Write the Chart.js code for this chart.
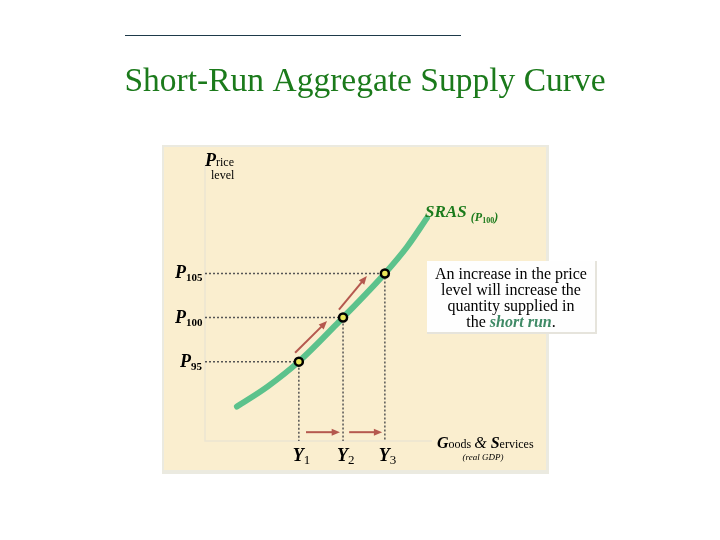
<!DOCTYPE html>
<html>
<head>
<meta charset="utf-8">
<script src="https://cdn.jsdelivr.net/npm/chart.js@4.4.1/dist/chart.umd.min.js"></script>
<style>
  body { margin: 0; background: #ffffff; }
  canvas { display: block; }
</style>
</head>
<body>
<canvas id="srasChart" width="720" height="540"></canvas>
<script>
// SRAS curve (x: real GDP, arbitrary units; y: price level)
const curveX = [9.4, 18.5, 27.6, 40.6, 52.9, 59.4, 65.3];
const curveY = [89.9, 92.2, 95.0, 100.0, 105.0, 108.0, 111.3];

// the three marked equilibria
const priceLevels = [95, 100, 105];
const outputLevels = [27.6, 40.6, 52.9];
const priceLabels = ['95', '100', '105'];
const outputLabels = ['1', '2', '3'];

// arrows: [x1, y1, x2, y2]
const arrows = [
  [26.5, 96.0, 35.9, 99.6],
  [39.4, 100.9, 47.6, 104.7],
  [29.7, 87.0, 39.7, 87.0],
  [42.4, 87.0, 52.1, 87.0]
];

const serif = '"Liberation Serif", "DejaVu Serif", serif';
const green = '#1b7a1b';
const curveGreen = '#5cc28c';
const arrowRed = '#b5584e';

const curveData = curveX.map((x, i) => ({ x: x, y: curveY[i] }));
const pointData = outputLevels.map((x, i) => ({ x: x, y: priceLevels[i] }));

// dotted guide lines from axes to each point
const guideSets = [];
pointData.forEach(p => {
  guideSets.push({
    data: [{ x: 0, y: p.y }, { x: p.x, y: p.y }, { x: p.x, y: 86 }],
    borderColor: '#555555',
    borderWidth: 1.5,
    borderDash: [2, 2],
    pointRadius: 0,
    fill: false,
    tension: 0,
    order: 3
  });
});

// draw a run of differently styled text pieces
function drawRuns(ctx, x, y, runs, align) {
  let total = 0;
  runs.forEach(r => { ctx.font = r.font; total += ctx.measureText(r.t).width; });
  let cx = align === 'center' ? x - total / 2 : x;
  runs.forEach(r => {
    ctx.font = r.font;
    ctx.fillStyle = r.color || '#000';
    ctx.fillText(r.t, cx, y + (r.dy || 0));
    cx += ctx.measureText(r.t).width;
  });
}

const backdrop = {
  id: 'backdrop',
  beforeDraw(chart) {
    const ctx = chart.ctx;
    ctx.save();
    ctx.fillStyle = '#ffffff';
    ctx.fillRect(0, 0, chart.width, chart.height);
    // panel with light shadow
    ctx.fillStyle = '#ebeae0';
    ctx.fillRect(162, 145, 387, 329);
    ctx.fillStyle = '#faeecf';
    ctx.fillRect(164, 147, 382, 323);
    // axes
    ctx.strokeStyle = '#ece5d2';
    ctx.lineWidth = 1.5;
    ctx.beginPath();
    ctx.moveTo(205, 165);
    ctx.lineTo(205, 441);
    ctx.lineTo(432, 441);
    ctx.stroke();
    // title
    ctx.strokeStyle = '#1e3a4a';
    ctx.lineWidth = 1;
    ctx.beginPath();
    ctx.moveTo(125, 35.5);
    ctx.lineTo(461, 35.5);
    ctx.stroke();
    ctx.fillStyle = green;
    ctx.font = '33.5px ' + serif;
    ctx.textAlign = 'center';
    ctx.textBaseline = 'alphabetic';
    ctx.fillText('Short-Run Aggregate Supply Curve', 365, 91);
    ctx.restore();
  },
  afterDatasetsDraw(chart) {
    const ctx = chart.ctx;
    const xs = chart.scales.x, ys = chart.scales.y;
    ctx.save();
    // arrows
    ctx.strokeStyle = arrowRed;
    ctx.fillStyle = arrowRed;
    ctx.lineWidth = 2;
    arrows.forEach(a => {
      const x1 = xs.getPixelForValue(a[0]), y1 = ys.getPixelForValue(a[1]);
      const x2 = xs.getPixelForValue(a[2]), y2 = ys.getPixelForValue(a[3]);
      const ang = Math.atan2(y2 - y1, x2 - x1);
      const hl = 9;
      ctx.beginPath();
      ctx.moveTo(x1, y1);
      ctx.lineTo(x2 - Math.cos(ang) * 4, y2 - Math.sin(ang) * 4);
      ctx.stroke();
      ctx.beginPath();
      ctx.moveTo(x2, y2);
      ctx.lineTo(x2 - hl * Math.cos(ang - 0.4), y2 - hl * Math.sin(ang - 0.4));
      ctx.lineTo(x2 - hl * Math.cos(ang + 0.4), y2 - hl * Math.sin(ang + 0.4));
      ctx.closePath();
      ctx.fill();
    });

    ctx.textAlign = 'left';
    ctx.textBaseline = 'alphabetic';
    const bigI = 'bold italic 18px ' + serif;
    // price level axis title
    drawRuns(ctx, 205, 166, [
      { t: 'P', font: bigI },
      { t: 'rice', font: '12px ' + serif }
    ]);
    ctx.fillStyle = '#000';
    ctx.font = '12px ' + serif;
    ctx.fillText('level', 211, 179);

    // price labels
    priceLevels.forEach((p, i) => {
      const py = ys.getPixelForValue(p);
      const lx = priceLabels[i].length === 2 ? 180 : 175;
      drawRuns(ctx, lx, py + 5, [
        { t: 'P', font: bigI },
        { t: priceLabels[i], font: 'bold 11px ' + serif, dy: 3 }
      ]);
    });

    // output labels
    outputLevels.forEach((q, i) => {
      const px = xs.getPixelForValue(q);
      drawRuns(ctx, px - 6, 461, [
        { t: 'Y', font: bigI },
        { t: outputLabels[i], font: '13px ' + serif, dy: 3 }
      ]);
    });

    // SRAS label
    drawRuns(ctx, 425, 217, [
      { t: 'SRAS ', font: 'bold italic 17px ' + serif, color: green },
      { t: '(P', font: 'bold italic 12px ' + serif, color: green, dy: 4 },
      { t: '100', font: 'bold 8px ' + serif, color: green, dy: 6 },
      { t: ')', font: 'bold italic 12px ' + serif, color: green, dy: 4 }
    ]);

    // x axis title
    drawRuns(ctx, 437, 448, [
      { t: 'G', font: 'bold italic 16px ' + serif },
      { t: 'oods ', font: '12px ' + serif },
      { t: '& ', font: 'italic 16px ' + serif },
      { t: 'S', font: 'bold italic 16px ' + serif },
      { t: 'ervices', font: '12px ' + serif }
    ]);
    ctx.fillStyle = '#000';
    ctx.font = 'italic 9px ' + serif;
    ctx.textAlign = 'center';
    ctx.fillText('(real GDP)', 483, 460);

    // annotation box
    ctx.fillStyle = '#e6e4dc';
    ctx.fillRect(427, 261, 170, 73);
    ctx.fillStyle = '#fefefe';
    ctx.fillRect(427, 261, 168, 71);
    ctx.fillStyle = '#000';
    ctx.font = '16px ' + serif;
    ctx.textAlign = 'center';
    ctx.fillText('An increase in the price', 511, 279);
    ctx.fillText('level will increase the', 511, 295);
    ctx.fillText('quantity supplied in', 511, 311);
    ctx.textAlign = 'left';
    drawRuns(ctx, 511, 327, [
      { t: 'the ', font: '16px ' + serif },
      { t: 'short run', font: 'bold italic 16px ' + serif, color: '#3f8a66' },
      { t: '.', font: '16px ' + serif }
    ], 'center');
    ctx.restore();
  }
};

new Chart(document.getElementById('srasChart'), {
  type: 'line',
  data: {
    datasets: [
      ...guideSets,
      {
        data: curveData,
        borderColor: curveGreen,
        borderWidth: 6,
        borderCapStyle: 'round',
        borderJoinStyle: 'round',
        cubicInterpolationMode: 'monotone',
        pointRadius: 0,
        fill: false,
        order: 2
      },
      {
        data: pointData,
        showLine: false,
        pointRadius: 4,
        pointBorderWidth: 2.5,
        pointBorderColor: '#000000',
        pointBackgroundColor: '#e9e65a',
        order: 1
      }
    ]
  },
  options: {
    responsive: false,
    animation: false,
    devicePixelRatio: 1,
    layout: { padding: { left: 205, right: 175, top: 150, bottom: 99 } },
    plugins: { legend: { display: false }, tooltip: { enabled: false } },
    scales: {
      x: { type: 'linear', min: 0, max: 100, display: false },
      y: { type: 'linear', min: 86, max: 119, display: false }
    }
  },
  plugins: [backdrop]
});
</script>
</body>
</html>
